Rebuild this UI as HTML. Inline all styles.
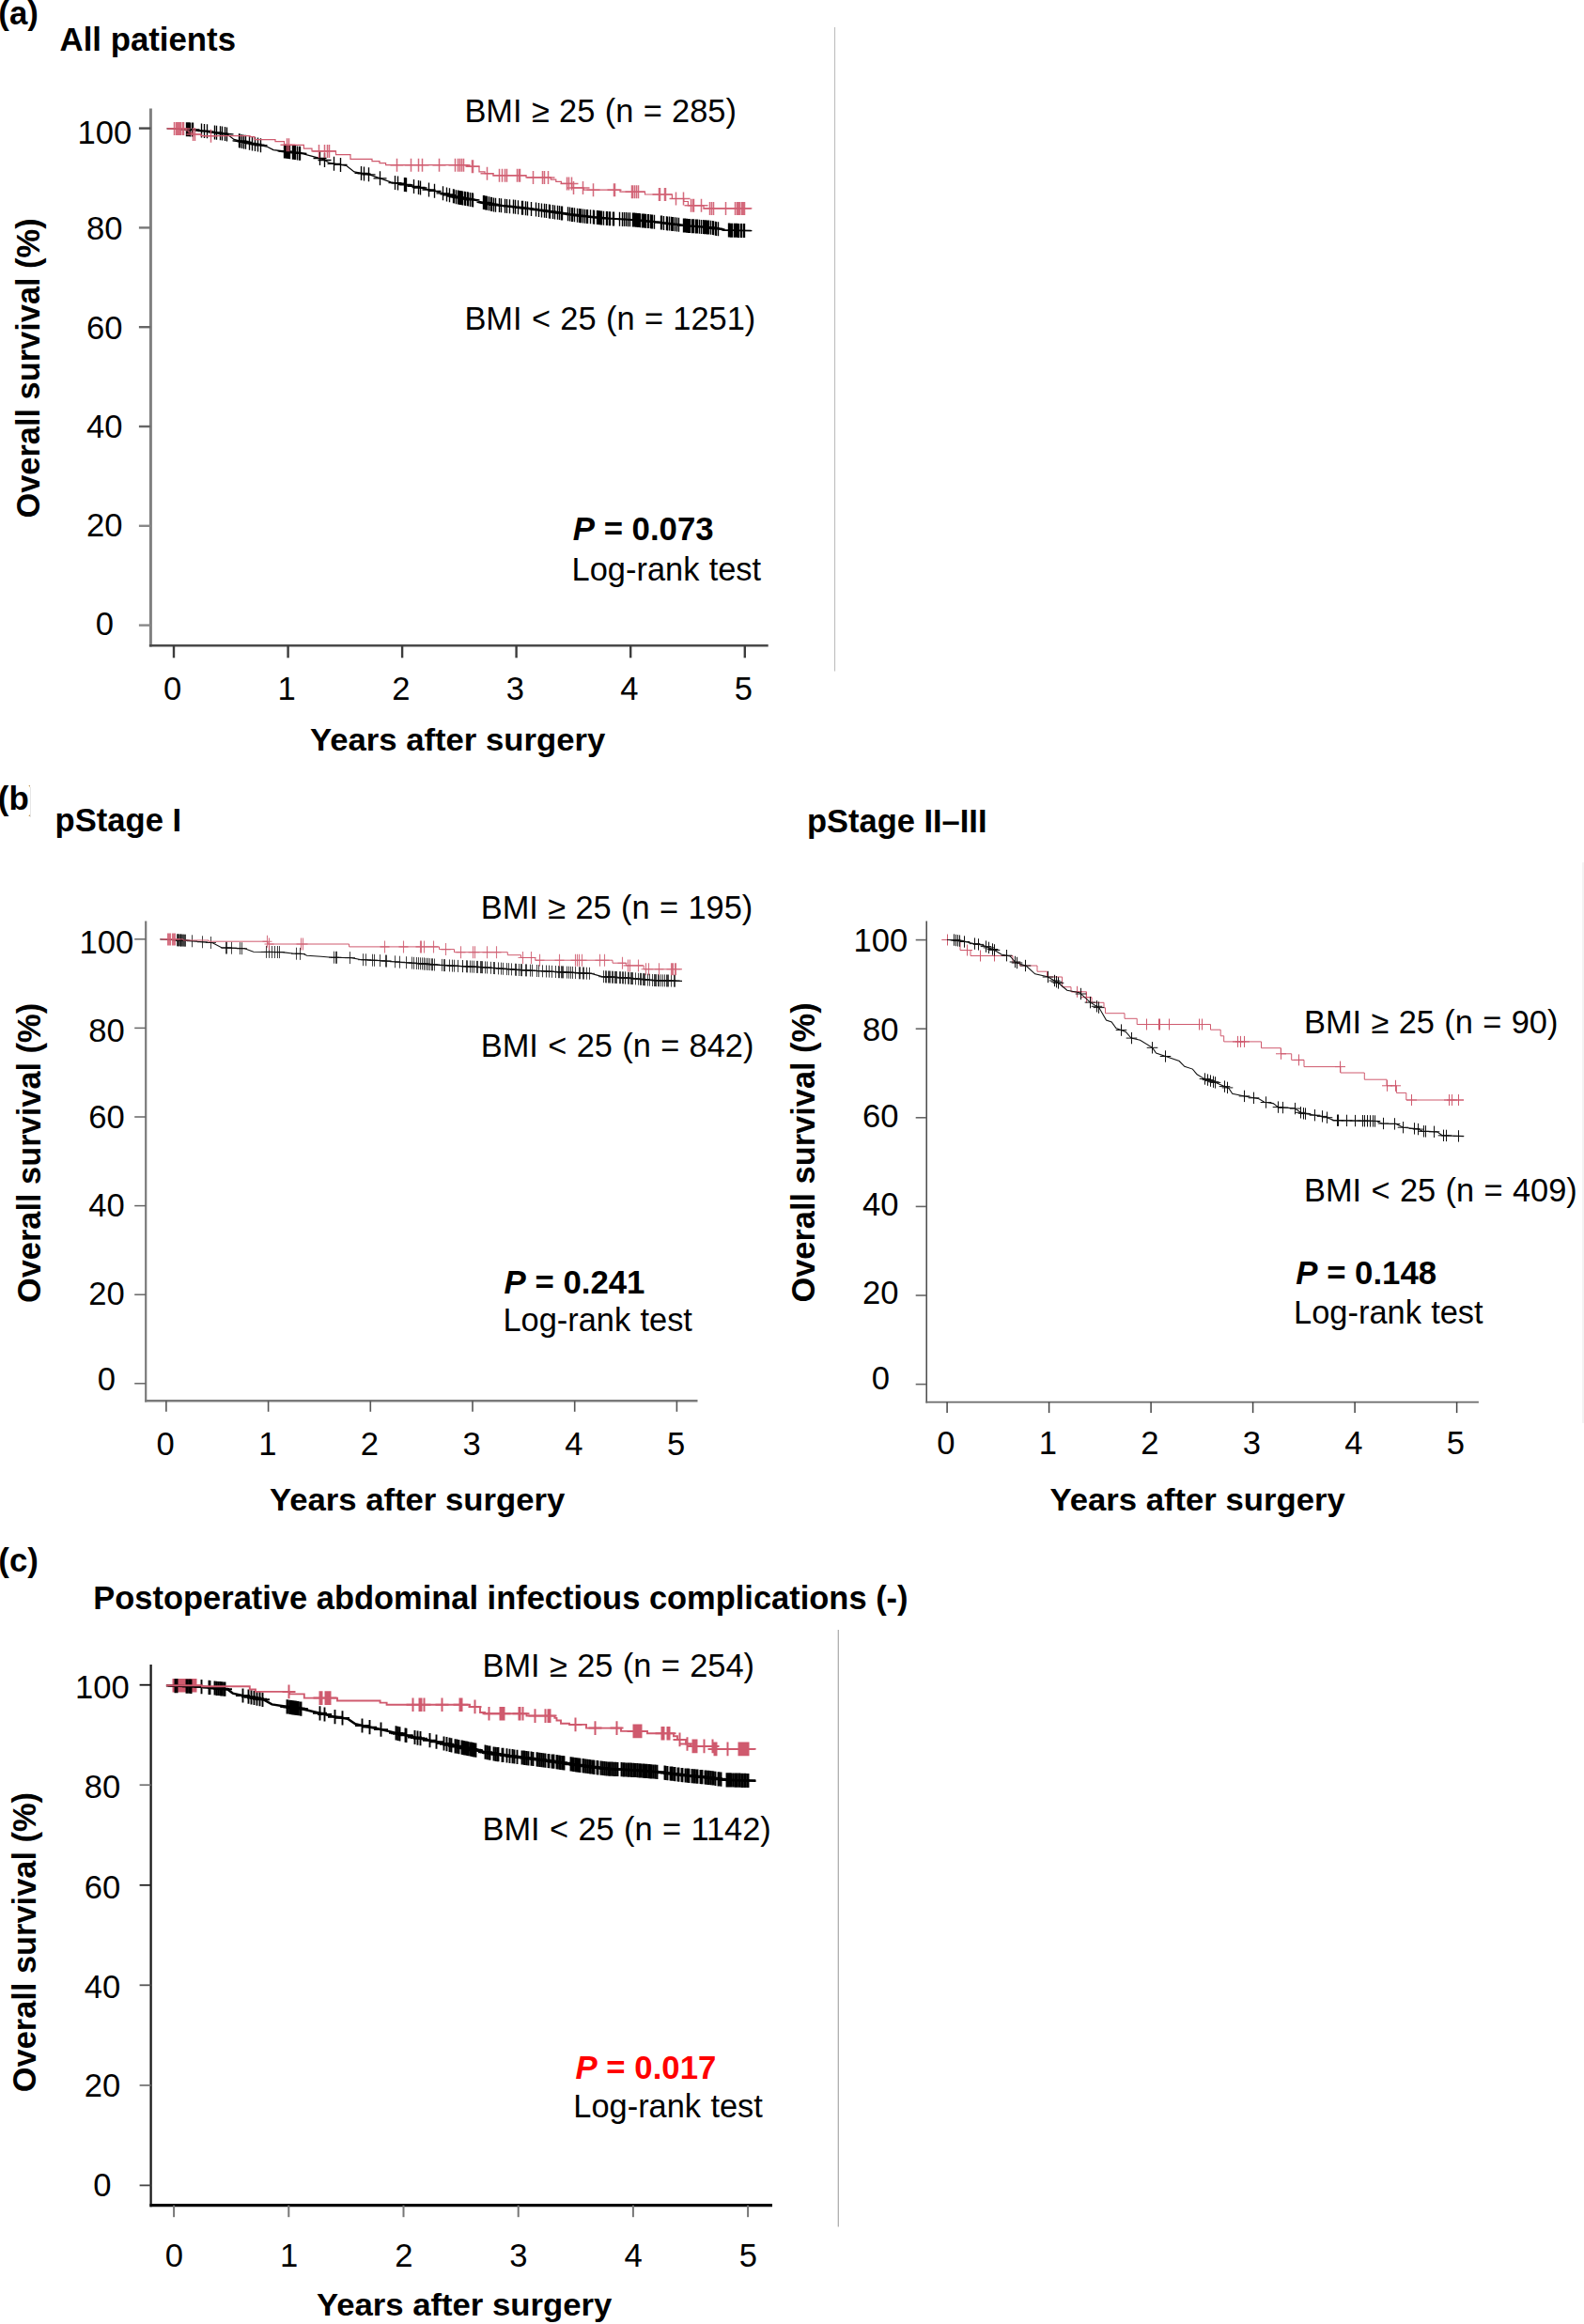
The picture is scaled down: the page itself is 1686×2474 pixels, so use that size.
<!DOCTYPE html>
<html lang="en"><head><meta charset="utf-8"><title>Overall survival by BMI</title>
<style>html,body{margin:0;padding:0;background:#fff}svg{display:block}</style></head>
<body>
<svg width="1686" height="2474" viewBox="0 0 1686 2474" font-family="'Liberation Sans', Arial, Helvetica, sans-serif" fill="#000">
<text transform="translate(-1.7 25.5) scale(0.994 1)" font-size="35.0" text-anchor="start" font-weight="bold">(a)</text>
<text transform="translate(63.6 54.3) scale(0.994 1)" font-size="35.0" text-anchor="start" font-weight="bold">All patients</text>
<line x1="888.5" y1="29.0" x2="888.5" y2="714.5" stroke="#c0c0c0" stroke-width="1.20"/>
<line x1="160.4" y1="115.6" x2="160.4" y2="688.6" stroke="#808080" stroke-width="3.00"/>
<line x1="158.9" y1="687.3" x2="817.7" y2="687.3" stroke="#4a4a4a" stroke-width="2.60"/>
<line x1="147.9" y1="136.6" x2="160.4" y2="136.6" stroke="#484848" stroke-width="2.40"/>
<text transform="translate(111.3 153.0) scale(0.995 1)" font-size="34.8" text-anchor="middle">100</text>
<line x1="185.0" y1="687.3" x2="185.0" y2="700.3" stroke="#3c3c3c" stroke-width="2.40"/>
<text transform="translate(183.7 745.3) scale(0.995 1)" font-size="34.8" text-anchor="middle">0</text>
<line x1="147.9" y1="242.4" x2="160.4" y2="242.4" stroke="#777" stroke-width="2.40"/>
<text transform="translate(111.3 255.0) scale(0.995 1)" font-size="34.8" text-anchor="middle">80</text>
<line x1="306.6" y1="687.3" x2="306.6" y2="700.3" stroke="#3c3c3c" stroke-width="2.40"/>
<text transform="translate(305.2 745.3) scale(0.995 1)" font-size="34.8" text-anchor="middle">1</text>
<line x1="147.9" y1="348.2" x2="160.4" y2="348.2" stroke="#666" stroke-width="2.40"/>
<text transform="translate(111.3 361.3) scale(0.995 1)" font-size="34.8" text-anchor="middle">60</text>
<line x1="428.1" y1="687.3" x2="428.1" y2="700.3" stroke="#3c3c3c" stroke-width="2.40"/>
<text transform="translate(426.8 745.3) scale(0.995 1)" font-size="34.8" text-anchor="middle">2</text>
<line x1="147.9" y1="454.0" x2="160.4" y2="454.0" stroke="#666" stroke-width="2.40"/>
<text transform="translate(111.3 466.3) scale(0.995 1)" font-size="34.8" text-anchor="middle">40</text>
<line x1="549.6" y1="687.3" x2="549.6" y2="700.3" stroke="#3c3c3c" stroke-width="2.40"/>
<text transform="translate(548.4 745.3) scale(0.995 1)" font-size="34.8" text-anchor="middle">3</text>
<line x1="147.9" y1="559.8" x2="160.4" y2="559.8" stroke="#888" stroke-width="2.40"/>
<text transform="translate(111.3 571.3) scale(0.995 1)" font-size="34.8" text-anchor="middle">20</text>
<line x1="671.2" y1="687.3" x2="671.2" y2="700.3" stroke="#3c3c3c" stroke-width="2.40"/>
<text transform="translate(669.9 745.3) scale(0.995 1)" font-size="34.8" text-anchor="middle">4</text>
<line x1="147.9" y1="665.6" x2="160.4" y2="665.6" stroke="#888" stroke-width="2.40"/>
<text transform="translate(111.3 676.3) scale(0.995 1)" font-size="34.8" text-anchor="middle">0</text>
<line x1="792.8" y1="687.3" x2="792.8" y2="700.3" stroke="#3c3c3c" stroke-width="2.40"/>
<text transform="translate(791.5 745.3) scale(0.995 1)" font-size="34.8" text-anchor="middle">5</text>
<text transform="translate(41.9 392.0) scale(1.015 1) rotate(-90)" font-size="34.4" text-anchor="middle" font-weight="bold">Overall survival (%)</text>
<text transform="translate(329.9 798.5) scale(1.021 1)" font-size="34.0" text-anchor="start" font-weight="bold">Years after surgery</text>
<text transform="translate(494.4 129.7) scale(1.000 1)" font-size="34.4" text-anchor="start" word-spacing="0.8">BMI ≥ 25 (n = 285)</text>
<text transform="translate(494.4 351.0) scale(1.000 1)" font-size="34.4" text-anchor="start" word-spacing="0.8">BMI &lt; 25 (n = 1251)</text>
<text transform="translate(609.8 575.3) scale(0.994 1)" font-size="35.0" text-anchor="start" font-weight="bold"><tspan font-style="italic">P</tspan> = 0.073</text>
<text transform="translate(608.6 617.6) scale(1.000 1)" font-size="34.4" text-anchor="start" word-spacing="0.8">Log-rank test</text>
<g>
<path d="M177.6 136.9 L206.0 138.0 L228.0 140.8 L242.0 143.0 L249.0 148.5 L267.0 152.6 L284.0 156.0 L291.0 159.6 L303.0 161.0 L323.0 163.8 L343.6 169.3 L350.5 173.5 L368.6 176.3 L377.0 183.0 L393.9 186.1 L416.0 193.8 L438.3 197.9 L463.3 203.5 L485.6 209.7 L505.0 213.2 L525.8 218.0 L546.7 220.1 L574.4 223.6 L590.0 225.8 L617.8 229.7 L645.5 232.5 L673.3 233.9 L701.0 236.7 L728.9 240.1 L756.7 242.2 L770.5 245.0 L800.4 245.7" fill="none" stroke="#000" stroke-width="1.30" stroke-linejoin="miter"/>
<path d="M198.5 130.2v15.0M191.5 137.7h14.0M199.5 130.2v15.0M192.5 137.7h14.0M199.5 130.2v15.0M192.5 137.7h14.0M200.5 130.3v15.0M193.5 137.8h14.0M201.5 130.3v15.0M194.5 137.8h14.0M202.5 130.4v15.0M195.5 137.9h14.0M202.5 130.4v15.0M195.5 137.9h14.0M204.5 130.4v15.0M197.5 137.9h14.0M205.5 130.5v15.0M198.5 138.0h14.0M214.5 131.6v15.0M207.5 139.1h14.0M217.5 132.0v15.0M210.5 139.5h14.0M220.5 132.3v15.0M213.5 139.8h14.0M228.5 133.4v15.0M221.5 140.9h14.0M230.5 133.7v15.0M223.5 141.2h14.0M234.5 134.3v15.0M227.5 141.8h14.0M236.5 134.6v15.0M229.5 142.1h14.0M239.5 135.1v15.0M232.5 142.6h14.0M241.5 135.4v15.0M234.5 142.9h14.0M254.5 142.3v15.0M247.5 149.8h14.0M255.5 142.5v15.0M248.5 150.0h14.0M257.5 142.9v15.0M250.5 150.4h14.0M259.5 143.4v15.0M252.5 150.9h14.0M261.5 143.8v15.0M254.5 151.3h14.0M265.5 144.8v15.0M258.5 152.3h14.0M268.5 145.4v15.0M261.5 152.9h14.0M271.5 146.0v15.0M264.5 153.5h14.0M274.5 146.6v15.0M267.5 154.1h14.0M277.5 147.2v15.0M270.5 154.7h14.0M302.5 153.4v15.0M295.5 160.9h14.0M303.5 153.6v15.0M296.5 161.1h14.0M304.5 153.7v15.0M297.5 161.2h14.0M305.5 153.8v15.0M298.5 161.3h14.0M306.5 154.0v15.0M299.5 161.5h14.0M307.5 154.1v15.0M300.5 161.6h14.0M308.5 154.3v15.0M301.5 161.8h14.0M311.5 154.7v15.0M304.5 162.2h14.0M312.5 154.8v15.0M305.5 162.3h14.0M313.5 155.0v15.0M306.5 162.5h14.0M314.5 155.1v15.0M307.5 162.6h14.0M316.5 155.4v15.0M309.5 162.9h14.0M318.5 155.7v15.0M311.5 163.2h14.0M319.5 155.8v15.0M312.5 163.3h14.0M340.5 161.0v15.0M333.5 168.5h14.0M345.5 163.0v15.0M338.5 170.5h14.0M355.5 166.8v15.0M348.5 174.3h14.0M362.5 167.9v15.0M355.5 175.4h14.0M384.5 176.9v15.0M377.5 184.4h14.0M387.5 177.4v15.0M380.5 184.9h14.0M392.5 178.3v15.0M385.5 185.8h14.0M404.5 182.3v15.0M397.5 189.8h14.0M420.5 187.1v15.0M413.5 194.6h14.0M423.5 187.6v15.0M416.5 195.1h14.0M430.5 188.9v15.0M423.5 196.4h14.0M431.5 189.1v15.0M424.5 196.6h14.0M432.5 189.3v15.0M425.5 196.8h14.0M440.5 190.9v15.0M433.5 198.4h14.0M445.5 192.0v15.0M438.5 199.5h14.0M447.5 192.5v15.0M440.5 200.0h14.0M456.5 194.5v15.0M449.5 202.0h14.0M462.5 195.8v15.0M455.5 203.3h14.0M471.5 198.3v15.0M464.5 205.8h14.0M475.5 199.4v15.0M468.5 206.9h14.0M478.5 200.2v15.0M471.5 207.7h14.0M482.5 201.3v15.0M475.5 208.8h14.0M483.5 201.6v15.0M476.5 209.1h14.0M485.5 202.2v15.0M478.5 209.7h14.0M485.5 202.2v15.0M478.5 209.7h14.0M487.5 202.5v15.0M480.5 210.0h14.0M488.5 202.7v15.0M481.5 210.2h14.0M489.5 202.9v15.0M482.5 210.4h14.0M489.5 202.9v15.0M482.5 210.4h14.0M490.5 203.1v15.0M483.5 210.6h14.0M491.5 203.3v15.0M484.5 210.8h14.0M492.5 203.4v15.0M485.5 210.9h14.0M494.5 203.8v15.0M487.5 211.3h14.0M495.5 204.0v15.0M488.5 211.5h14.0M497.5 204.3v15.0M490.5 211.8h14.0M497.5 204.3v15.0M490.5 211.8h14.0M498.5 204.5v15.0M491.5 212.0h14.0M498.5 204.5v15.0M491.5 212.0h14.0M500.5 204.9v15.0M493.5 212.4h14.0M500.5 204.9v15.0M493.5 212.4h14.0M502.5 205.2v15.0M495.5 212.7h14.0M503.5 205.4v15.0M496.5 212.9h14.0M514.5 207.9v15.0M507.5 215.4h14.0M515.5 208.1v15.0M508.5 215.6h14.0M516.5 208.4v15.0M509.5 215.9h14.0M517.5 208.6v15.0M510.5 216.1h14.0M518.5 208.8v15.0M511.5 216.3h14.0M520.5 209.3v15.0M513.5 216.8h14.0M522.5 209.7v15.0M515.5 217.2h14.0M523.5 210.0v15.0M516.5 217.5h14.0M525.5 210.4v15.0M518.5 217.9h14.0M527.5 210.7v15.0M520.5 218.2h14.0M531.5 211.1v15.0M524.5 218.6h14.0M533.5 211.3v15.0M526.5 218.8h14.0M533.5 211.3v15.0M526.5 218.8h14.0M537.5 211.7v15.0M530.5 219.2h14.0M539.5 211.9v15.0M532.5 219.4h14.0M542.5 212.2v15.0M535.5 219.7h14.0M546.5 212.6v15.0M539.5 220.1h14.0M548.5 212.8v15.0M541.5 220.3h14.0M551.5 213.2v15.0M544.5 220.7h14.0M555.5 213.7v15.0M548.5 221.2h14.0M556.5 213.8v15.0M549.5 221.3h14.0M559.5 214.2v15.0M552.5 221.7h14.0M561.5 214.5v15.0M554.5 222.0h14.0M565.5 215.0v15.0M558.5 222.5h14.0M570.5 215.6v15.0M563.5 223.1h14.0M573.5 216.0v15.0M566.5 223.5h14.0M576.5 216.4v15.0M569.5 223.9h14.0M579.5 216.8v15.0M572.5 224.3h14.0M581.5 217.1v15.0M574.5 224.6h14.0M584.5 217.5v15.0M577.5 225.0h14.0M585.5 217.7v15.0M578.5 225.2h14.0M588.5 218.1v15.0M581.5 225.6h14.0M590.5 218.4v15.0M583.5 225.9h14.0M590.5 218.4v15.0M583.5 225.9h14.0M593.5 218.8v15.0M586.5 226.3h14.0M595.5 219.1v15.0M588.5 226.6h14.0M595.5 219.1v15.0M588.5 226.6h14.0M597.5 219.4v15.0M590.5 226.9h14.0M598.5 219.5v15.0M591.5 227.0h14.0M598.5 219.5v15.0M591.5 227.0h14.0M604.5 220.3v15.0M597.5 227.8h14.0M606.5 220.6v15.0M599.5 228.1h14.0M606.5 220.6v15.0M599.5 228.1h14.0M608.5 220.9v15.0M601.5 228.4h14.0M609.5 221.0v15.0M602.5 228.5h14.0M611.5 221.3v15.0M604.5 228.8h14.0M611.5 221.3v15.0M604.5 228.8h14.0M614.5 221.7v15.0M607.5 229.2h14.0M616.5 222.0v15.0M609.5 229.5h14.0M617.5 222.2v15.0M610.5 229.7h14.0M618.5 222.3v15.0M611.5 229.8h14.0M620.5 222.5v15.0M613.5 230.0h14.0M622.5 222.7v15.0M615.5 230.2h14.0M624.5 222.9v15.0M617.5 230.4h14.0M625.5 223.0v15.0M618.5 230.5h14.0M628.5 223.3v15.0M621.5 230.8h14.0M628.5 223.3v15.0M621.5 230.8h14.0M631.5 223.6v15.0M624.5 231.1h14.0M632.5 223.7v15.0M625.5 231.2h14.0M635.5 224.0v15.0M628.5 231.5h14.0M636.5 224.1v15.0M629.5 231.6h14.0M637.5 224.2v15.0M630.5 231.7h14.0M638.5 224.3v15.0M631.5 231.8h14.0M639.5 224.4v15.0M632.5 231.9h14.0M640.5 224.5v15.0M633.5 232.0h14.0M642.5 224.7v15.0M635.5 232.2h14.0M645.5 225.0v15.0M638.5 232.5h14.0M646.5 225.1v15.0M639.5 232.6h14.0M648.5 225.2v15.0M641.5 232.7h14.0M649.5 225.2v15.0M642.5 232.7h14.0M652.5 225.4v15.0M645.5 232.9h14.0M653.5 225.4v15.0M646.5 232.9h14.0M659.5 225.7v15.0M652.5 233.2h14.0M659.5 225.7v15.0M652.5 233.2h14.0M662.5 225.9v15.0M655.5 233.4h14.0M662.5 225.9v15.0M655.5 233.4h14.0M664.5 226.0v15.0M657.5 233.5h14.0M666.5 226.1v15.0M659.5 233.6h14.0M668.5 226.2v15.0M661.5 233.7h14.0M670.5 226.3v15.0M663.5 233.8h14.0M673.5 226.4v15.0M666.5 233.9h14.0M673.5 226.4v15.0M666.5 233.9h14.0M674.5 226.5v15.0M667.5 234.0h14.0M674.5 226.5v15.0M667.5 234.0h14.0M675.5 226.6v15.0M668.5 234.1h14.0M676.5 226.7v15.0M669.5 234.2h14.0M677.5 226.8v15.0M670.5 234.3h14.0M677.5 226.8v15.0M670.5 234.3h14.0M678.5 226.9v15.0M671.5 234.4h14.0M679.5 227.0v15.0M672.5 234.5h14.0M680.5 227.1v15.0M673.5 234.6h14.0M681.5 227.2v15.0M674.5 234.7h14.0M683.5 227.4v15.0M676.5 234.9h14.0M684.5 227.5v15.0M677.5 235.0h14.0M685.5 227.6v15.0M678.5 235.1h14.0M686.5 227.7v15.0M679.5 235.2h14.0M687.5 227.8v15.0M680.5 235.3h14.0M689.5 228.0v15.0M682.5 235.5h14.0M690.5 228.1v15.0M683.5 235.6h14.0M692.5 228.3v15.0M685.5 235.8h14.0M693.5 228.4v15.0M686.5 235.9h14.0M694.5 228.5v15.0M687.5 236.0h14.0M696.5 228.7v15.0M689.5 236.2h14.0M703.5 229.5v15.0M696.5 237.0h14.0M704.5 229.6v15.0M697.5 237.1h14.0M706.5 229.9v15.0M699.5 237.4h14.0M709.5 230.2v15.0M702.5 237.7h14.0M710.5 230.4v15.0M703.5 237.9h14.0M712.5 230.6v15.0M705.5 238.1h14.0M714.5 230.8v15.0M707.5 238.3h14.0M715.5 231.0v15.0M708.5 238.5h14.0M716.5 231.1v15.0M709.5 238.6h14.0M718.5 231.3v15.0M711.5 238.8h14.0M720.5 231.6v15.0M713.5 239.1h14.0M720.5 231.6v15.0M713.5 239.1h14.0M722.5 231.8v15.0M715.5 239.3h14.0M727.5 232.4v15.0M720.5 239.9h14.0M727.5 232.4v15.0M720.5 239.9h14.0M728.5 232.6v15.0M721.5 240.1h14.0M729.5 232.6v15.0M722.5 240.1h14.0M730.5 232.7v15.0M723.5 240.2h14.0M731.5 232.8v15.0M724.5 240.3h14.0M732.5 232.9v15.0M725.5 240.4h14.0M733.5 232.9v15.0M726.5 240.4h14.0M734.5 233.0v15.0M727.5 240.5h14.0M734.5 233.0v15.0M727.5 240.5h14.0M736.5 233.2v15.0M729.5 240.7h14.0M737.5 233.2v15.0M730.5 240.7h14.0M738.5 233.3v15.0M731.5 240.8h14.0M740.5 233.5v15.0M733.5 241.0h14.0M741.5 233.6v15.0M734.5 241.1h14.0M742.5 233.6v15.0M735.5 241.1h14.0M744.5 233.8v15.0M737.5 241.3h14.0M746.5 233.9v15.0M739.5 241.4h14.0M748.5 234.1v15.0M741.5 241.6h14.0M749.5 234.2v15.0M742.5 241.7h14.0M750.5 234.2v15.0M743.5 241.7h14.0M751.5 234.3v15.0M744.5 241.8h14.0M752.5 234.4v15.0M745.5 241.9h14.0M753.5 234.5v15.0M746.5 242.0h14.0M754.5 234.5v15.0M747.5 242.0h14.0M756.5 234.7v15.0M749.5 242.2h14.0M756.5 234.7v15.0M749.5 242.2h14.0M758.5 235.1v15.0M751.5 242.6h14.0M759.5 235.3v15.0M752.5 242.8h14.0M759.5 235.3v15.0M752.5 242.8h14.0M761.5 235.7v15.0M754.5 243.2h14.0M761.5 235.7v15.0M754.5 243.2h14.0M762.5 235.9v15.0M755.5 243.4h14.0M764.5 236.3v15.0M757.5 243.8h14.0M775.5 237.6v15.0M768.5 245.1h14.0M776.5 237.6v15.0M769.5 245.1h14.0M777.5 237.7v15.0M770.5 245.2h14.0M778.5 237.7v15.0M771.5 245.2h14.0M779.5 237.7v15.0M772.5 245.2h14.0M781.5 237.8v15.0M774.5 245.3h14.0M782.5 237.8v15.0M775.5 245.3h14.0M783.5 237.8v15.0M776.5 245.3h14.0M784.5 237.8v15.0M777.5 245.3h14.0M785.5 237.9v15.0M778.5 245.4h14.0M786.5 237.9v15.0M779.5 245.4h14.0M788.5 237.9v15.0M781.5 245.4h14.0M789.5 237.9v15.0M782.5 245.4h14.0M791.5 238.0v15.0M784.5 245.5h14.0M792.5 238.0v15.0M785.5 245.5h14.0" fill="none" stroke="#000" stroke-width="1.35"/>
<path d="M177.6 136.9 L198.0 136.9 L198.0 139.0 L201.0 139.0 L201.0 141.0 L204.0 141.0 L204.0 143.0 L214.0 143.0 L214.0 144.7 L266.0 144.7 L266.0 145.7 L271.0 145.7 L271.0 148.6 L293.0 148.6 L293.0 150.7 L302.5 150.7 L302.5 154.3 L323.4 154.3 L323.4 158.2 L332.0 158.2 L332.0 160.9 L357.5 160.9 L357.5 164.6 L373.0 164.6 L373.0 169.3 L396.0 169.3 L396.0 171.7 L404.0 171.7 L404.0 173.7 L410.6 173.7 L410.6 175.7 L497.4 175.7 L497.4 177.2 L510.0 177.2 L510.0 182.8 L516.0 182.8 L516.0 184.7 L525.0 184.7 L525.0 186.8 L560.0 186.8 L560.0 188.9 L586.3 188.9 L586.3 191.1 L591.8 191.1 L591.8 193.4 L597.4 193.4 L597.4 195.4 L608.7 195.4 L608.7 199.9 L621.2 199.9 L621.2 202.2 L660.0 202.2 L660.0 204.2 L686.5 204.2 L686.5 207.0 L715.4 207.0 L715.4 211.5 L727.8 211.5 L727.8 214.5 L732.4 214.5 L732.4 218.8 L749.0 218.8 L749.0 221.9 L800.4 221.9" fill="none" stroke="#cf5a6e" stroke-width="1.20" stroke-linejoin="miter"/>
<path d="M185.5 129.9v14.0M178.5 136.9h14.0M187.5 129.9v14.0M180.5 136.9h14.0M188.5 129.9v14.0M181.5 136.9h14.0M189.5 129.9v14.0M182.5 136.9h14.0M190.5 129.9v14.0M183.5 136.9h14.0M190.5 129.9v14.0M183.5 136.9h14.0M191.5 129.9v14.0M184.5 136.9h14.0M192.5 129.9v14.0M185.5 136.9h14.0M192.5 129.9v14.0M185.5 136.9h14.0M194.5 129.9v14.0M187.5 136.9h14.0M194.5 129.9v14.0M187.5 136.9h14.0M195.5 129.9v14.0M188.5 136.9h14.0M205.5 136.0v14.0M198.5 143.0h14.0M207.5 136.0v14.0M200.5 143.0h14.0M224.5 137.7v14.0M217.5 144.7h14.0M305.5 147.3v14.0M298.5 154.3h14.0M307.5 147.3v14.0M300.5 154.3h14.0M339.5 153.9v14.0M332.5 160.9h14.0M345.5 153.9v14.0M338.5 160.9h14.0M348.5 153.9v14.0M341.5 160.9h14.0M350.5 153.9v14.0M343.5 160.9h14.0M422.5 168.7v14.0M415.5 175.7h14.0M437.5 168.7v14.0M430.5 175.7h14.0M445.5 168.7v14.0M438.5 175.7h14.0M449.5 168.7v14.0M442.5 175.7h14.0M467.5 168.7v14.0M460.5 175.7h14.0M484.5 168.7v14.0M477.5 175.7h14.0M487.5 168.7v14.0M480.5 175.7h14.0M489.5 168.7v14.0M482.5 175.7h14.0M491.5 168.7v14.0M484.5 175.7h14.0M493.5 168.7v14.0M486.5 175.7h14.0M502.5 170.2v14.0M495.5 177.2h14.0M503.5 170.2v14.0M496.5 177.2h14.0M518.5 177.7v14.0M511.5 184.7h14.0M531.5 179.8v14.0M524.5 186.8h14.0M534.5 179.8v14.0M527.5 186.8h14.0M537.5 179.8v14.0M530.5 186.8h14.0M539.5 179.8v14.0M532.5 186.8h14.0M550.5 179.8v14.0M543.5 186.8h14.0M552.5 179.8v14.0M545.5 186.8h14.0M553.5 179.8v14.0M546.5 186.8h14.0M567.5 181.9v14.0M560.5 188.9h14.0M577.5 181.9v14.0M570.5 188.9h14.0M579.5 181.9v14.0M572.5 188.9h14.0M583.5 181.9v14.0M576.5 188.9h14.0M603.5 188.4v14.0M596.5 195.4h14.0M605.5 188.4v14.0M598.5 195.4h14.0M608.5 188.4v14.0M601.5 195.4h14.0M610.5 192.9v14.0M603.5 199.9h14.0M620.5 192.9v14.0M613.5 199.9h14.0M631.5 195.2v14.0M624.5 202.2h14.0M653.5 195.2v14.0M646.5 202.2h14.0M654.5 195.2v14.0M647.5 202.2h14.0M672.5 197.2v14.0M665.5 204.2h14.0M672.5 197.2v14.0M665.5 204.2h14.0M673.5 197.2v14.0M666.5 204.2h14.0M675.5 197.2v14.0M668.5 204.2h14.0M677.5 197.2v14.0M670.5 204.2h14.0M679.5 197.2v14.0M672.5 204.2h14.0M701.5 200.0v14.0M694.5 207.0h14.0M702.5 200.0v14.0M695.5 207.0h14.0M707.5 200.0v14.0M700.5 207.0h14.0M708.5 200.0v14.0M701.5 207.0h14.0M719.5 204.5v14.0M712.5 211.5h14.0M727.5 204.5v14.0M720.5 211.5h14.0M735.5 211.8v14.0M728.5 218.8h14.0M737.5 211.8v14.0M730.5 218.8h14.0M738.5 211.8v14.0M731.5 218.8h14.0M746.5 211.8v14.0M739.5 218.8h14.0M755.5 214.9v14.0M748.5 221.9h14.0M757.5 214.9v14.0M750.5 221.9h14.0M759.5 214.9v14.0M752.5 221.9h14.0M772.5 214.9v14.0M765.5 221.9h14.0M782.5 214.9v14.0M775.5 221.9h14.0M784.5 214.9v14.0M777.5 221.9h14.0M785.5 214.9v14.0M778.5 221.9h14.0M786.5 214.9v14.0M779.5 221.9h14.0M787.5 214.9v14.0M780.5 221.9h14.0M787.5 214.9v14.0M780.5 221.9h14.0M789.5 214.9v14.0M782.5 221.9h14.0M790.5 214.9v14.0M783.5 221.9h14.0M791.5 214.9v14.0M784.5 221.9h14.0M792.5 214.9v14.0M785.5 221.9h14.0" fill="none" stroke="#cf5a6e" stroke-width="1.50" stroke-opacity="0.90"/>
</g>
<clipPath id="cb"><rect x="0" y="820" width="31.5" height="60"/></clipPath>
<g clip-path="url(#cb)">
<text transform="translate(-2.2 862.4) scale(0.970 1)" font-size="36.0" text-anchor="start" font-weight="bold">(b)</text>
</g>
<line x1="32.5" y1="838.0" x2="32.5" y2="870.0" stroke="#e6e6e6" stroke-width="1.00"/>
<text transform="translate(58.6 884.6) scale(0.967 1)" font-size="35.8" text-anchor="start" font-weight="bold">pStage I</text>
<text transform="translate(859.0 886.4) scale(0.963 1)" font-size="35.8" text-anchor="start" font-weight="bold">pStage II–III</text>
<line x1="155.2" y1="980.4" x2="155.2" y2="1492.5" stroke="#7a7a7a" stroke-width="2.20"/>
<line x1="154.1" y1="1491.3" x2="742.5" y2="1491.3" stroke="#7a7a7a" stroke-width="2.40"/>
<line x1="143.2" y1="999.8" x2="155.2" y2="999.8" stroke="#666" stroke-width="1.50"/>
<text transform="translate(113.4 1014.6) scale(0.995 1)" font-size="34.8" text-anchor="middle">100</text>
<line x1="176.9" y1="1491.3" x2="176.9" y2="1502.8" stroke="#555" stroke-width="1.60"/>
<text transform="translate(176.1 1549.0) scale(0.995 1)" font-size="34.8" text-anchor="middle">0</text>
<line x1="143.2" y1="1094.4" x2="155.2" y2="1094.4" stroke="#666" stroke-width="1.50"/>
<text transform="translate(113.4 1109.2) scale(0.995 1)" font-size="34.8" text-anchor="middle">80</text>
<line x1="285.6" y1="1491.3" x2="285.6" y2="1502.8" stroke="#555" stroke-width="1.60"/>
<text transform="translate(284.8 1549.0) scale(0.995 1)" font-size="34.8" text-anchor="middle">1</text>
<line x1="143.2" y1="1189.0" x2="155.2" y2="1189.0" stroke="#666" stroke-width="1.50"/>
<text transform="translate(113.4 1201.0) scale(0.995 1)" font-size="34.8" text-anchor="middle">60</text>
<line x1="394.3" y1="1491.3" x2="394.3" y2="1502.8" stroke="#555" stroke-width="1.60"/>
<text transform="translate(393.5 1549.0) scale(0.995 1)" font-size="34.8" text-anchor="middle">2</text>
<line x1="143.2" y1="1283.6" x2="155.2" y2="1283.6" stroke="#666" stroke-width="1.50"/>
<text transform="translate(113.4 1295.0) scale(0.995 1)" font-size="34.8" text-anchor="middle">40</text>
<line x1="503.0" y1="1491.3" x2="503.0" y2="1502.8" stroke="#555" stroke-width="1.60"/>
<text transform="translate(502.2 1549.0) scale(0.995 1)" font-size="34.8" text-anchor="middle">3</text>
<line x1="143.2" y1="1378.2" x2="155.2" y2="1378.2" stroke="#666" stroke-width="1.50"/>
<text transform="translate(113.4 1388.9) scale(0.995 1)" font-size="34.8" text-anchor="middle">20</text>
<line x1="611.7" y1="1491.3" x2="611.7" y2="1502.8" stroke="#555" stroke-width="1.60"/>
<text transform="translate(610.9 1549.0) scale(0.995 1)" font-size="34.8" text-anchor="middle">4</text>
<line x1="143.2" y1="1472.8" x2="155.2" y2="1472.8" stroke="#666" stroke-width="1.50"/>
<text transform="translate(113.4 1479.9) scale(0.995 1)" font-size="34.8" text-anchor="middle">0</text>
<line x1="720.4" y1="1491.3" x2="720.4" y2="1502.8" stroke="#555" stroke-width="1.60"/>
<text transform="translate(719.6 1549.0) scale(0.995 1)" font-size="34.8" text-anchor="middle">5</text>
<text transform="translate(42.8 1227.5) scale(1.015 1) rotate(-90)" font-size="34.4" text-anchor="middle" font-weight="bold">Overall survival (%)</text>
<text transform="translate(286.9 1607.9) scale(1.021 1)" font-size="34.0" text-anchor="start" font-weight="bold">Years after surgery</text>
<text transform="translate(511.7 977.6) scale(1.000 1)" font-size="34.4" text-anchor="start" word-spacing="0.8">BMI ≥ 25 (n = 195)</text>
<text transform="translate(511.7 1124.5) scale(1.000 1)" font-size="34.4" text-anchor="start" word-spacing="0.8">BMI &lt; 25 (n = 842)</text>
<text transform="translate(536.6 1376.5) scale(0.994 1)" font-size="35.0" text-anchor="start" font-weight="bold"><tspan font-style="italic">P</tspan> = 0.241</text>
<text transform="translate(535.4 1417.4) scale(1.000 1)" font-size="34.4" text-anchor="start" word-spacing="0.8">Log-rank test</text>
<g>
<path d="M170.4 999.9 L197.9 1001.2 L226.3 1003.7 L235.8 1008.8 L260.4 1009.8 L269.8 1013.2 L300.2 1013.6 L311.5 1015.0 L322.9 1015.5 L326.7 1017.3 L341.8 1018.3 L353.2 1019.2 L374.0 1019.6 L383.5 1021.5 L406.2 1022.7 L425.2 1024.2 L444.0 1025.5 L460.0 1026.8 L477.9 1027.9 L515.8 1029.8 L553.6 1032.6 L591.5 1034.5 L629.4 1036.4 L640.8 1039.6 L667.3 1041.1 L695.7 1043.6 L726.0 1044.4" fill="none" stroke="#111" stroke-width="1.10" stroke-linejoin="miter"/>
<path d="M188.5 994.3v13.0M183.0 1000.8h11.0M189.5 994.3v13.0M184.0 1000.8h11.0M189.5 994.3v13.0M184.0 1000.8h11.0M190.5 994.4v13.0M185.0 1000.9h11.0M191.5 994.4v13.0M186.0 1000.9h11.0M192.5 994.5v13.0M187.0 1001.0h11.0M192.5 994.5v13.0M187.0 1001.0h11.0M193.5 994.5v13.0M188.0 1001.0h11.0M194.5 994.6v13.0M189.0 1001.1h11.0M195.5 994.6v13.0M190.0 1001.1h11.0M196.5 994.7v13.0M191.0 1001.2h11.0M197.5 994.7v13.0M192.0 1001.2h11.0M204.5 995.3v13.0M199.0 1001.8h11.0M215.5 996.3v13.0M210.0 1002.8h11.0M224.5 997.0v13.0M219.0 1003.5h11.0M240.5 1002.5v13.0M235.0 1009.0h11.0M241.5 1002.5v13.0M236.0 1009.0h11.0M246.5 1002.7v13.0M241.0 1009.2h11.0M255.5 1003.1v13.0M250.0 1009.6h11.0M257.5 1003.2v13.0M252.0 1009.7h11.0M283.5 1006.9v13.0M278.0 1013.4h11.0M286.5 1006.9v13.0M281.0 1013.4h11.0M289.5 1007.0v13.0M284.0 1013.5h11.0M292.5 1007.0v13.0M287.0 1013.5h11.0M295.5 1007.0v13.0M290.0 1013.5h11.0M297.5 1007.1v13.0M292.0 1013.6h11.0M315.5 1008.7v13.0M310.0 1015.2h11.0M319.5 1008.9v13.0M314.0 1015.4h11.0M355.5 1012.7v13.0M350.0 1019.2h11.0M357.5 1012.8v13.0M352.0 1019.3h11.0M358.5 1012.8v13.0M353.0 1019.3h11.0M372.5 1013.1v13.0M367.0 1019.6h11.0M386.5 1015.2v13.0M381.0 1021.7h11.0M389.5 1015.3v13.0M384.0 1021.8h11.0M396.5 1015.7v13.0M391.0 1022.2h11.0M398.5 1015.8v13.0M393.0 1022.3h11.0M404.5 1016.1v13.0M399.0 1022.6h11.0M410.5 1016.5v13.0M405.0 1023.0h11.0M411.5 1016.6v13.0M406.0 1023.1h11.0M420.5 1017.3v13.0M415.0 1023.8h11.0M425.5 1017.7v13.0M420.0 1024.2h11.0M432.5 1018.2v13.0M427.0 1024.7h11.0M438.5 1018.6v13.0M433.0 1025.1h11.0M440.5 1018.8v13.0M435.0 1025.3h11.0M443.5 1019.0v13.0M438.0 1025.5h11.0M445.5 1019.1v13.0M440.0 1025.6h11.0M447.5 1019.3v13.0M442.0 1025.8h11.0M449.5 1019.4v13.0M444.0 1025.9h11.0M451.5 1019.6v13.0M446.0 1026.1h11.0M451.5 1019.6v13.0M446.0 1026.1h11.0M453.5 1019.8v13.0M448.0 1026.3h11.0M455.5 1019.9v13.0M450.0 1026.4h11.0M455.5 1019.9v13.0M450.0 1026.4h11.0M457.5 1020.1v13.0M452.0 1026.6h11.0M459.5 1020.3v13.0M454.0 1026.8h11.0M460.5 1020.3v13.0M455.0 1026.8h11.0M462.5 1020.5v13.0M457.0 1027.0h11.0M470.5 1020.9v13.0M465.0 1027.4h11.0M472.5 1021.1v13.0M467.0 1027.6h11.0M473.5 1021.1v13.0M468.0 1027.6h11.0M478.5 1021.4v13.0M473.0 1027.9h11.0M481.5 1021.6v13.0M476.0 1028.1h11.0M483.5 1021.7v13.0M478.0 1028.2h11.0M487.5 1021.9v13.0M482.0 1028.4h11.0M492.5 1022.1v13.0M487.0 1028.6h11.0M492.5 1022.1v13.0M487.0 1028.6h11.0M496.5 1022.3v13.0M491.0 1028.8h11.0M497.5 1022.4v13.0M492.0 1028.9h11.0M500.5 1022.5v13.0M495.0 1029.0h11.0M502.5 1022.6v13.0M497.0 1029.1h11.0M504.5 1022.7v13.0M499.0 1029.2h11.0M507.5 1022.9v13.0M502.0 1029.4h11.0M508.5 1022.9v13.0M503.0 1029.4h11.0M511.5 1023.1v13.0M506.0 1029.6h11.0M512.5 1023.1v13.0M507.0 1029.6h11.0M513.5 1023.2v13.0M508.0 1029.7h11.0M516.5 1023.4v13.0M511.0 1029.9h11.0M518.5 1023.5v13.0M513.0 1030.0h11.0M522.5 1023.8v13.0M517.0 1030.3h11.0M525.5 1024.0v13.0M520.0 1030.5h11.0M526.5 1024.1v13.0M521.0 1030.6h11.0M530.5 1024.4v13.0M525.0 1030.9h11.0M533.5 1024.6v13.0M528.0 1031.1h11.0M535.5 1024.8v13.0M530.0 1031.3h11.0M539.5 1025.1v13.0M534.0 1031.6h11.0M541.5 1025.2v13.0M536.0 1031.7h11.0M544.5 1025.4v13.0M539.0 1031.9h11.0M548.5 1025.7v13.0M543.0 1032.2h11.0M549.5 1025.8v13.0M544.0 1032.3h11.0M552.5 1026.0v13.0M547.0 1032.5h11.0M554.5 1026.1v13.0M549.0 1032.6h11.0M555.5 1026.2v13.0M550.0 1032.7h11.0M559.5 1026.4v13.0M554.0 1032.9h11.0M560.5 1026.4v13.0M555.0 1032.9h11.0M564.5 1026.6v13.0M559.0 1033.1h11.0M566.5 1026.7v13.0M561.0 1033.2h11.0M571.5 1027.0v13.0M566.0 1033.5h11.0M573.5 1027.1v13.0M568.0 1033.6h11.0M577.5 1027.3v13.0M572.0 1033.8h11.0M581.5 1027.5v13.0M576.0 1034.0h11.0M584.5 1027.6v13.0M579.0 1034.1h11.0M587.5 1027.8v13.0M582.0 1034.3h11.0M591.5 1028.0v13.0M586.0 1034.5h11.0M594.5 1028.2v13.0M589.0 1034.7h11.0M595.5 1028.2v13.0M590.0 1034.7h11.0M597.5 1028.3v13.0M592.0 1034.8h11.0M598.5 1028.4v13.0M593.0 1034.9h11.0M599.5 1028.4v13.0M594.0 1034.9h11.0M603.5 1028.6v13.0M598.0 1035.1h11.0M605.5 1028.7v13.0M600.0 1035.2h11.0M607.5 1028.8v13.0M602.0 1035.3h11.0M609.5 1028.9v13.0M604.0 1035.4h11.0M612.5 1029.1v13.0M607.0 1035.6h11.0M616.5 1029.3v13.0M611.0 1035.8h11.0M617.5 1029.3v13.0M612.0 1035.8h11.0M620.5 1029.5v13.0M615.0 1036.0h11.0M621.5 1029.5v13.0M616.0 1036.0h11.0M624.5 1029.7v13.0M619.0 1036.2h11.0M627.5 1029.8v13.0M622.0 1036.3h11.0M642.5 1033.2v13.0M637.0 1039.7h11.0M644.5 1033.3v13.0M639.0 1039.8h11.0M645.5 1033.4v13.0M640.0 1039.9h11.0M647.5 1033.5v13.0M642.0 1040.0h11.0M648.5 1033.5v13.0M643.0 1040.0h11.0M649.5 1033.6v13.0M644.0 1040.1h11.0M651.5 1033.7v13.0M646.0 1040.2h11.0M652.5 1033.8v13.0M647.0 1040.3h11.0M654.5 1033.9v13.0M649.0 1040.4h11.0M655.5 1033.9v13.0M650.0 1040.4h11.0M656.5 1034.0v13.0M651.0 1040.5h11.0M659.5 1034.2v13.0M654.0 1040.7h11.0M660.5 1034.2v13.0M655.0 1040.7h11.0M662.5 1034.3v13.0M657.0 1040.8h11.0M663.5 1034.4v13.0M658.0 1040.9h11.0M665.5 1034.5v13.0M660.0 1041.0h11.0M665.5 1034.5v13.0M660.0 1041.0h11.0M668.5 1034.7v13.0M663.0 1041.2h11.0M669.5 1034.8v13.0M664.0 1041.3h11.0M671.5 1035.0v13.0M666.0 1041.5h11.0M672.5 1035.1v13.0M667.0 1041.6h11.0M673.5 1035.1v13.0M668.0 1041.6h11.0M676.5 1035.4v13.0M671.0 1041.9h11.0M679.5 1035.7v13.0M674.0 1042.2h11.0M681.5 1035.8v13.0M676.0 1042.3h11.0M682.5 1035.9v13.0M677.0 1042.4h11.0M684.5 1036.1v13.0M679.0 1042.6h11.0M685.5 1036.2v13.0M680.0 1042.7h11.0M686.5 1036.3v13.0M681.0 1042.8h11.0M689.5 1036.6v13.0M684.0 1043.1h11.0M691.5 1036.7v13.0M686.0 1043.2h11.0M694.5 1037.0v13.0M689.0 1043.5h11.0M696.5 1037.1v13.0M691.0 1043.6h11.0M697.5 1037.1v13.0M692.0 1043.6h11.0M698.5 1037.2v13.0M693.0 1043.7h11.0M700.5 1037.2v13.0M695.0 1043.7h11.0M701.5 1037.3v13.0M696.0 1043.8h11.0M703.5 1037.3v13.0M698.0 1043.8h11.0M705.5 1037.4v13.0M700.0 1043.9h11.0M707.5 1037.4v13.0M702.0 1043.9h11.0M709.5 1037.5v13.0M704.0 1044.0h11.0M710.5 1037.5v13.0M705.0 1044.0h11.0M711.5 1037.5v13.0M706.0 1044.0h11.0M714.5 1037.6v13.0M709.0 1044.1h11.0M717.5 1037.7v13.0M712.0 1044.2h11.0M718.5 1037.7v13.0M713.0 1044.2h11.0" fill="none" stroke="#111" stroke-width="1.00" stroke-opacity="0.80"/>
<path d="M170.4 999.9 L195.0 999.9 L195.0 1001.0 L222.0 1001.0 L222.0 1002.2 L285.0 1002.2 L285.0 1005.0 L371.6 1005.0 L371.6 1007.9 L467.5 1007.9 L467.5 1010.6 L483.5 1010.6 L483.5 1013.7 L540.3 1013.7 L540.3 1016.7 L554.5 1016.7 L554.5 1019.5 L569.8 1019.5 L569.8 1022.2 L652.0 1022.2 L652.0 1025.2 L666.3 1025.2 L666.3 1027.9 L685.2 1027.9 L685.2 1031.8 L726.0 1031.8" fill="none" stroke="#cf5a6e" stroke-width="1.00" stroke-linejoin="miter"/>
<path d="M178.5 993.4v13.0M173.5 999.9h10.0M179.5 993.4v13.0M174.5 999.9h10.0M180.5 993.4v13.0M175.5 999.9h10.0M181.5 993.4v13.0M176.5 999.9h10.0M181.5 993.4v13.0M176.5 999.9h10.0M183.5 993.4v13.0M178.5 999.9h10.0M184.5 993.4v13.0M179.5 999.9h10.0M185.5 993.4v13.0M180.5 999.9h10.0M186.5 993.4v13.0M181.5 999.9h10.0M284.5 995.7v13.0M279.5 1002.2h10.0M286.5 998.5v13.0M281.5 1005.0h10.0M320.5 998.5v13.0M315.5 1005.0h10.0M322.5 998.5v13.0M317.5 1005.0h10.0M409.5 1001.4v13.0M404.5 1007.9h10.0M429.5 1001.4v13.0M424.5 1007.9h10.0M447.5 1001.4v13.0M442.5 1007.9h10.0M448.5 1001.4v13.0M443.5 1007.9h10.0M451.5 1001.4v13.0M446.5 1007.9h10.0M461.5 1001.4v13.0M456.5 1007.9h10.0M474.5 1004.1v13.0M469.5 1010.6h10.0M490.5 1007.2v13.0M485.5 1013.7h10.0M503.5 1007.2v13.0M498.5 1013.7h10.0M505.5 1007.2v13.0M500.5 1013.7h10.0M518.5 1007.2v13.0M513.5 1013.7h10.0M528.5 1007.2v13.0M523.5 1013.7h10.0M556.5 1013.0v13.0M551.5 1019.5h10.0M565.5 1013.0v13.0M560.5 1019.5h10.0M574.5 1015.7v13.0M569.5 1022.2h10.0M595.5 1015.7v13.0M590.5 1022.2h10.0M612.5 1015.7v13.0M607.5 1022.2h10.0M614.5 1015.7v13.0M609.5 1022.2h10.0M616.5 1015.7v13.0M611.5 1022.2h10.0M619.5 1015.7v13.0M614.5 1022.2h10.0M638.5 1015.7v13.0M633.5 1022.2h10.0M643.5 1015.7v13.0M638.5 1022.2h10.0M662.5 1018.7v13.0M657.5 1025.2h10.0M668.5 1021.4v13.0M663.5 1027.9h10.0M670.5 1021.4v13.0M665.5 1027.9h10.0M679.5 1021.4v13.0M674.5 1027.9h10.0M687.5 1025.3v13.0M682.5 1031.8h10.0M690.5 1025.3v13.0M685.5 1031.8h10.0M701.5 1025.3v13.0M696.5 1031.8h10.0M714.5 1025.3v13.0M709.5 1031.8h10.0M715.5 1025.3v13.0M710.5 1031.8h10.0M716.5 1025.3v13.0M711.5 1031.8h10.0M718.5 1025.3v13.0M713.5 1031.8h10.0M719.5 1025.3v13.0M714.5 1031.8h10.0" fill="none" stroke="#cf5a6e" stroke-width="1.10" stroke-opacity="0.85"/>
</g>
<line x1="986.2" y1="980.4" x2="986.2" y2="1493.5" stroke="#3c3c3c" stroke-width="1.40"/>
<line x1="985.5" y1="1492.6" x2="1573.9" y2="1492.6" stroke="#6a6a6a" stroke-width="1.80"/>
<line x1="974.7" y1="1000.6" x2="986.2" y2="1000.6" stroke="#666" stroke-width="1.60"/>
<text transform="translate(937.3 1012.6) scale(0.995 1)" font-size="34.8" text-anchor="middle">100</text>
<line x1="1008.1" y1="1492.6" x2="1008.1" y2="1504.1" stroke="#444" stroke-width="1.50"/>
<text transform="translate(1006.8 1548.2) scale(0.995 1)" font-size="34.8" text-anchor="middle">0</text>
<line x1="974.7" y1="1095.2" x2="986.2" y2="1095.2" stroke="#666" stroke-width="1.60"/>
<text transform="translate(937.3 1108.0) scale(0.995 1)" font-size="34.8" text-anchor="middle">80</text>
<line x1="1116.6" y1="1492.6" x2="1116.6" y2="1504.1" stroke="#444" stroke-width="1.50"/>
<text transform="translate(1115.3 1548.2) scale(0.995 1)" font-size="34.8" text-anchor="middle">1</text>
<line x1="974.7" y1="1189.8" x2="986.2" y2="1189.8" stroke="#666" stroke-width="1.60"/>
<text transform="translate(937.3 1200.0) scale(0.995 1)" font-size="34.8" text-anchor="middle">60</text>
<line x1="1225.1" y1="1492.6" x2="1225.1" y2="1504.1" stroke="#444" stroke-width="1.50"/>
<text transform="translate(1223.8 1548.2) scale(0.995 1)" font-size="34.8" text-anchor="middle">2</text>
<line x1="974.7" y1="1284.4" x2="986.2" y2="1284.4" stroke="#666" stroke-width="1.60"/>
<text transform="translate(937.3 1293.9) scale(0.995 1)" font-size="34.8" text-anchor="middle">40</text>
<line x1="1333.6" y1="1492.6" x2="1333.6" y2="1504.1" stroke="#444" stroke-width="1.50"/>
<text transform="translate(1332.3 1548.2) scale(0.995 1)" font-size="34.8" text-anchor="middle">3</text>
<line x1="974.7" y1="1379.0" x2="986.2" y2="1379.0" stroke="#666" stroke-width="1.60"/>
<text transform="translate(937.3 1388.3) scale(0.995 1)" font-size="34.8" text-anchor="middle">20</text>
<line x1="1442.1" y1="1492.6" x2="1442.1" y2="1504.1" stroke="#444" stroke-width="1.50"/>
<text transform="translate(1440.8 1548.2) scale(0.995 1)" font-size="34.8" text-anchor="middle">4</text>
<line x1="974.7" y1="1473.6" x2="986.2" y2="1473.6" stroke="#666" stroke-width="1.60"/>
<text transform="translate(937.3 1479.3) scale(0.995 1)" font-size="34.8" text-anchor="middle">0</text>
<line x1="1550.6" y1="1492.6" x2="1550.6" y2="1504.1" stroke="#444" stroke-width="1.50"/>
<text transform="translate(1549.3 1548.2) scale(0.995 1)" font-size="34.8" text-anchor="middle">5</text>
<text transform="translate(866.7 1227.0) scale(1.015 1) rotate(-90)" font-size="34.4" text-anchor="middle" font-weight="bold">Overall survival (%)</text>
<text transform="translate(1117.4 1607.9) scale(1.021 1)" font-size="34.0" text-anchor="start" font-weight="bold">Years after surgery</text>
<text transform="translate(1388.0 1099.5) scale(1.000 1)" font-size="34.4" text-anchor="start" word-spacing="0.8">BMI ≥ 25 (n = 90)</text>
<text transform="translate(1388.0 1278.8) scale(1.000 1)" font-size="34.4" text-anchor="start" word-spacing="0.8">BMI &lt; 25 (n = 409)</text>
<text transform="translate(1379.3 1366.9) scale(0.994 1)" font-size="35.0" text-anchor="start" font-weight="bold"><tspan font-style="italic">P</tspan> = 0.148</text>
<text transform="translate(1377.1 1408.6) scale(1.000 1)" font-size="34.4" text-anchor="start" word-spacing="0.8">Log-rank test</text>
<rect x="1684" y="918" width="2" height="597" fill="#f3f3f3"/>
<g>
<path d="M1002.3 1000.5 L1022.0 1000.5 L1022.0 1011.5 L1033.0 1011.5 L1033.0 1017.5 L1078.0 1017.5 L1078.0 1024.7 L1085.6 1024.7 L1085.6 1028.0 L1104.0 1028.0 L1104.0 1034.2 L1114.5 1034.2 L1114.5 1040.0 L1130.6 1040.0 L1130.6 1050.7 L1140.0 1050.7 L1140.0 1055.8 L1156.2 1055.8 L1156.2 1061.7 L1162.0 1061.7 L1162.0 1067.3 L1175.0 1067.3 L1175.0 1072.8 L1176.5 1072.8 L1176.5 1078.7 L1197.0 1078.7 L1197.0 1084.3 L1210.2 1084.3 L1210.2 1090.5 L1288.5 1090.5 L1288.5 1096.2 L1299.2 1096.2 L1299.2 1102.8 L1302.7 1102.8 L1302.7 1108.9 L1342.5 1108.9 L1342.5 1115.7 L1363.3 1115.7 L1363.3 1121.8 L1374.7 1121.8 L1374.7 1128.4 L1388.0 1128.4 L1388.0 1135.6 L1426.8 1135.6 L1426.8 1142.0 L1452.3 1142.0 L1452.3 1149.2 L1476.0 1149.2 L1476.0 1155.8 L1486.4 1155.8 L1486.4 1163.4 L1496.8 1163.4 L1496.8 1171.0 L1558.0 1171.0" fill="none" stroke="#cf5a6e" stroke-width="1.00" stroke-linejoin="miter"/>
<path d="M1008.5 994.5v12.0M1003.0 1000.5h11.0M1029.5 1005.5v12.0M1024.0 1011.5h11.0M1043.5 1011.5v12.0M1038.0 1017.5h11.0M1058.5 1011.5v12.0M1053.0 1017.5h11.0M1146.5 1049.8v12.0M1141.0 1055.8h11.0M1156.5 1055.7v12.0M1151.0 1061.7h11.0M1220.5 1084.5v12.0M1215.0 1090.5h11.0M1233.5 1084.5v12.0M1228.0 1090.5h11.0M1234.5 1084.5v12.0M1229.0 1090.5h11.0M1244.5 1084.5v12.0M1239.0 1090.5h11.0M1276.5 1084.5v12.0M1271.0 1090.5h11.0M1279.5 1084.5v12.0M1274.0 1090.5h11.0M1317.5 1102.9v12.0M1312.0 1108.9h11.0M1320.5 1102.9v12.0M1315.0 1108.9h11.0M1324.5 1102.9v12.0M1319.0 1108.9h11.0M1363.5 1115.8v12.0M1358.0 1121.8h11.0M1382.5 1122.4v12.0M1377.0 1128.4h11.0M1426.5 1129.6v12.0M1421.0 1135.6h11.0M1476.5 1149.8v12.0M1471.0 1155.8h11.0M1485.5 1149.8v12.0M1480.0 1155.8h11.0M1502.5 1165.0v12.0M1497.0 1171.0h11.0M1542.5 1165.0v12.0M1537.0 1171.0h11.0M1545.5 1165.0v12.0M1540.0 1171.0h11.0M1552.5 1165.0v12.0M1547.0 1171.0h11.0" fill="none" stroke="#cf5a6e" stroke-width="1.00"/>
<path d="M1008.0 1000.5 L1014.6 1000.5 L1027.9 1002.7 L1046.8 1006.5 L1058.2 1011.2 L1065.8 1016.0 L1075.2 1017.9 L1080.9 1024.5 L1092.3 1028.3 L1101.7 1036.8 L1115.0 1039.7 L1126.4 1046.3 L1135.8 1054.2 L1149.1 1056.7 L1160.5 1067.1 L1169.9 1072.8 L1177.5 1086.0 L1183.2 1088.0 L1187.9 1094.6 L1198.3 1098.4 L1204.0 1105.0 L1213.5 1107.3 L1226.7 1115.4 L1230.5 1121.1 L1240.0 1124.3 L1255.2 1129.6 L1260.8 1135.3 L1269.4 1138.1 L1274.1 1143.8 L1281.4 1148.1 L1294.6 1152.8 L1307.9 1158.5 L1311.7 1164.2 L1324.9 1167.0 L1340.0 1169.8 L1345.8 1173.3 L1355.2 1174.6 L1360.9 1178.9 L1378.0 1179.7 L1385.5 1185.0 L1410.2 1188.8 L1419.6 1192.6 L1465.0 1193.5 L1470.8 1196.0 L1485.9 1196.4 L1493.5 1200.2 L1508.6 1201.7 L1514.3 1204.3 L1529.5 1204.9 L1535.2 1208.7 L1557.9 1209.6" fill="none" stroke="#111" stroke-width="1.10" stroke-linejoin="miter"/>
<path d="M1015.5 994.4v12.4M1009.7 1000.6h11.6M1017.5 994.8v12.4M1011.7 1001.0h11.6M1019.5 995.1v12.4M1013.7 1001.3h11.6M1021.5 995.4v12.4M1015.7 1001.6h11.6M1026.5 996.3v12.4M1020.7 1002.5h11.6M1037.5 998.4v12.4M1031.7 1004.6h11.6M1041.5 999.2v12.4M1035.7 1005.4h11.6M1049.5 1001.4v12.4M1043.7 1007.6h11.6M1052.5 1002.7v12.4M1046.7 1008.9h11.6M1056.5 1004.3v12.4M1050.7 1010.5h11.6M1058.5 1005.2v12.4M1052.7 1011.4h11.6M1071.5 1011.0v12.4M1065.7 1017.2h11.6M1080.5 1017.8v12.4M1074.7 1024.0h11.6M1082.5 1018.8v12.4M1076.7 1025.0h11.6M1091.5 1021.8v12.4M1085.7 1028.0h11.6M1115.5 1033.8v12.4M1109.7 1040.0h11.6M1122.5 1037.8v12.4M1116.7 1044.0h11.6M1124.5 1039.0v12.4M1118.7 1045.2h11.6M1126.5 1040.2v12.4M1120.7 1046.4h11.6M1150.5 1051.8v12.4M1144.7 1058.0h11.6M1160.5 1060.9v12.4M1154.7 1067.1h11.6M1167.5 1065.1v12.4M1161.7 1071.3h11.6M1169.5 1066.4v12.4M1163.7 1072.6h11.6M1193.5 1090.4v12.4M1187.7 1096.6h11.6M1204.5 1098.9v12.4M1198.7 1105.1h11.6M1226.5 1109.1v12.4M1220.7 1115.3h11.6M1240.5 1118.3v12.4M1234.7 1124.5h11.6M1282.5 1142.3v12.4M1276.7 1148.5h11.6M1285.5 1143.4v12.4M1279.7 1149.6h11.6M1288.5 1144.4v12.4M1282.7 1150.6h11.6M1291.5 1145.5v12.4M1285.7 1151.7h11.6M1293.5 1146.2v12.4M1287.7 1152.4h11.6M1303.5 1150.4v12.4M1297.7 1156.6h11.6M1306.5 1151.7v12.4M1300.7 1157.9h11.6M1324.5 1160.7v12.4M1318.7 1166.9h11.6M1334.5 1162.6v12.4M1328.7 1168.8h11.6M1347.5 1167.3v12.4M1341.7 1173.5h11.6M1360.5 1172.4v12.4M1354.7 1178.6h11.6M1365.5 1172.9v12.4M1359.7 1179.1h11.6M1378.5 1173.9v12.4M1372.7 1180.1h11.6M1384.5 1178.1v12.4M1378.7 1184.3h11.6M1387.5 1179.1v12.4M1381.7 1185.3h11.6M1389.5 1179.4v12.4M1383.7 1185.6h11.6M1399.5 1181.0v12.4M1393.7 1187.2h11.6M1407.5 1182.2v12.4M1401.7 1188.4h11.6M1412.5 1183.5v12.4M1406.7 1189.7h11.6M1423.5 1186.5v12.4M1417.7 1192.7h11.6M1424.5 1186.5v12.4M1418.7 1192.7h11.6M1433.5 1186.7v12.4M1427.7 1192.9h11.6M1442.5 1186.9v12.4M1436.7 1193.1h11.6M1450.5 1187.0v12.4M1444.7 1193.2h11.6M1452.5 1187.1v12.4M1446.7 1193.3h11.6M1455.5 1187.1v12.4M1449.7 1193.3h11.6M1458.5 1187.2v12.4M1452.7 1193.4h11.6M1461.5 1187.2v12.4M1455.7 1193.4h11.6M1463.5 1187.3v12.4M1457.7 1193.5h11.6M1472.5 1189.8v12.4M1466.7 1196.0h11.6M1484.5 1190.2v12.4M1478.7 1196.4h11.6M1493.5 1194.0v12.4M1487.7 1200.2h11.6M1505.5 1195.2v12.4M1499.7 1201.4h11.6M1509.5 1195.9v12.4M1503.7 1202.1h11.6M1515.5 1198.1v12.4M1509.7 1204.3h11.6M1517.5 1198.2v12.4M1511.7 1204.4h11.6M1526.5 1198.6v12.4M1520.7 1204.8h11.6M1536.5 1202.6v12.4M1530.7 1208.8h11.6M1539.5 1202.7v12.4M1533.7 1208.9h11.6M1552.5 1203.2v12.4M1546.7 1209.4h11.6" fill="none" stroke="#111" stroke-width="1.00"/>
</g>
<text transform="translate(-1.7 1673.0) scale(0.994 1)" font-size="35.0" text-anchor="start" font-weight="bold">(c)</text>
<text transform="translate(99.3 1712.5) scale(0.985 1)" font-size="35.0" text-anchor="start" font-weight="bold">Postoperative abdominal infectious complications (-)</text>
<line x1="892.3" y1="1735.0" x2="892.3" y2="2370.5" stroke="#a8a8a8" stroke-width="1.20"/>
<line x1="160.6" y1="1772.0" x2="160.6" y2="2349.3" stroke="#1a1a1a" stroke-width="2.30"/>
<line x1="159.4" y1="2347.7" x2="822.0" y2="2347.7" stroke="#0a0a0a" stroke-width="3.20"/>
<line x1="148.6" y1="1793.7" x2="160.6" y2="1793.7" stroke="#111" stroke-width="1.80"/>
<text transform="translate(109.0 1807.7) scale(0.995 1)" font-size="34.8" text-anchor="middle">100</text>
<line x1="185.1" y1="2347.7" x2="185.1" y2="2360.2" stroke="#777" stroke-width="2.00"/>
<text transform="translate(185.4 2413.2) scale(0.995 1)" font-size="34.8" text-anchor="middle">0</text>
<line x1="148.6" y1="1900.2" x2="160.6" y2="1900.2" stroke="#777" stroke-width="1.80"/>
<text transform="translate(109.0 1913.7) scale(0.995 1)" font-size="34.8" text-anchor="middle">80</text>
<line x1="307.3" y1="2347.7" x2="307.3" y2="2360.2" stroke="#777" stroke-width="2.00"/>
<text transform="translate(307.6 2413.2) scale(0.995 1)" font-size="34.8" text-anchor="middle">1</text>
<line x1="148.6" y1="2006.8" x2="160.6" y2="2006.8" stroke="#222" stroke-width="1.80"/>
<text transform="translate(109.0 2020.9) scale(0.995 1)" font-size="34.8" text-anchor="middle">60</text>
<line x1="429.5" y1="2347.7" x2="429.5" y2="2360.2" stroke="#777" stroke-width="2.00"/>
<text transform="translate(429.8 2413.2) scale(0.995 1)" font-size="34.8" text-anchor="middle">2</text>
<line x1="148.6" y1="2113.3" x2="160.6" y2="2113.3" stroke="#555" stroke-width="1.80"/>
<text transform="translate(109.0 2126.5) scale(0.995 1)" font-size="34.8" text-anchor="middle">40</text>
<line x1="551.7" y1="2347.7" x2="551.7" y2="2360.2" stroke="#777" stroke-width="2.00"/>
<text transform="translate(552.0 2413.2) scale(0.995 1)" font-size="34.8" text-anchor="middle">3</text>
<line x1="148.6" y1="2219.9" x2="160.6" y2="2219.9" stroke="#777" stroke-width="1.80"/>
<text transform="translate(109.0 2232.1) scale(0.995 1)" font-size="34.8" text-anchor="middle">20</text>
<line x1="673.9" y1="2347.7" x2="673.9" y2="2360.2" stroke="#777" stroke-width="2.00"/>
<text transform="translate(674.2 2413.2) scale(0.995 1)" font-size="34.8" text-anchor="middle">4</text>
<line x1="148.6" y1="2326.4" x2="160.6" y2="2326.4" stroke="#444" stroke-width="1.80"/>
<text transform="translate(109.0 2337.6) scale(0.995 1)" font-size="34.8" text-anchor="middle">0</text>
<line x1="796.1" y1="2347.7" x2="796.1" y2="2360.2" stroke="#777" stroke-width="2.00"/>
<text transform="translate(796.4 2413.2) scale(0.995 1)" font-size="34.8" text-anchor="middle">5</text>
<text transform="translate(38.4 2067.6) scale(1.015 1) rotate(-90)" font-size="34.4" text-anchor="middle" font-weight="bold">Overall survival (%)</text>
<text transform="translate(336.9 2464.9) scale(1.021 1)" font-size="34.0" text-anchor="start" font-weight="bold">Years after surgery</text>
<text transform="translate(513.5 1784.8) scale(1.000 1)" font-size="34.4" text-anchor="start" word-spacing="0.8">BMI ≥ 25 (n = 254)</text>
<text transform="translate(513.5 1959.4) scale(1.000 1)" font-size="34.4" text-anchor="start" word-spacing="0.8">BMI &lt; 25 (n = 1142)</text>
<text transform="translate(612.5 2213.1) scale(0.994 1)" font-size="35.0" text-anchor="start" font-weight="bold" fill="#f00"><tspan font-style="italic">P</tspan> = 0.017</text>
<text transform="translate(610.3 2254.3) scale(1.000 1)" font-size="34.4" text-anchor="start" word-spacing="0.8">Log-rank test</text>
<g>
<path d="M184.5 1787.0v14.6M177.5 1794.3h14.0M184.5 1787.0v14.6M177.5 1794.3h14.0M185.5 1787.0v14.6M178.5 1794.3h14.0M186.5 1787.0v14.6M179.5 1794.3h14.0M187.5 1787.0v14.6M180.5 1794.3h14.0M188.5 1787.0v14.6M181.5 1794.3h14.0M190.5 1787.0v14.6M183.5 1794.3h14.0M191.5 1787.0v14.6M184.5 1794.3h14.0M191.5 1787.0v14.6M184.5 1794.3h14.0M193.5 1787.0v14.6M186.5 1794.3h14.0M195.5 1787.0v14.6M188.5 1794.3h14.0M197.5 1787.0v14.6M190.5 1794.3h14.0M197.5 1787.0v14.6M190.5 1794.3h14.0M199.5 1787.0v14.6M192.5 1794.3h14.0M201.5 1787.0v14.6M194.5 1794.3h14.0M202.5 1787.0v14.6M195.5 1794.3h14.0M204.5 1787.0v14.6M197.5 1794.3h14.0M205.5 1787.0v14.6M198.5 1794.3h14.0M206.5 1787.0v14.6M199.5 1794.3h14.0M208.5 1787.0v14.6M201.5 1794.3h14.0M307.5 1793.6v14.6M300.5 1800.9h14.0M340.5 1800.3v14.6M333.5 1807.6h14.0M342.5 1800.3v14.6M335.5 1807.6h14.0M346.5 1800.3v14.6M339.5 1807.6h14.0M348.5 1800.3v14.6M341.5 1807.6h14.0M350.5 1800.3v14.6M343.5 1807.6h14.0M351.5 1800.3v14.6M344.5 1807.6h14.0M439.5 1807.4v14.6M432.5 1814.7h14.0M446.5 1807.4v14.6M439.5 1814.7h14.0M448.5 1807.4v14.6M441.5 1814.7h14.0M451.5 1807.4v14.6M444.5 1814.7h14.0M470.5 1807.4v14.6M463.5 1814.7h14.0M489.5 1807.4v14.6M482.5 1814.7h14.0M491.5 1807.4v14.6M484.5 1814.7h14.0M505.5 1809.6v14.6M498.5 1816.9h14.0M520.5 1816.9v14.6M513.5 1824.2h14.0M532.5 1816.9v14.6M525.5 1824.2h14.0M534.5 1816.9v14.6M527.5 1824.2h14.0M536.5 1816.9v14.6M529.5 1824.2h14.0M552.5 1816.9v14.6M545.5 1824.2h14.0M553.5 1816.9v14.6M546.5 1824.2h14.0M556.5 1816.9v14.6M549.5 1824.2h14.0M569.5 1819.3v14.6M562.5 1826.6h14.0M580.5 1819.3v14.6M573.5 1826.6h14.0M583.5 1819.3v14.6M576.5 1826.6h14.0M585.5 1819.3v14.6M578.5 1826.6h14.0M612.5 1828.6v14.6M605.5 1835.9h14.0M633.5 1832.3v14.6M626.5 1839.6h14.0M656.5 1832.3v14.6M649.5 1839.6h14.0M674.5 1835.6v14.6M667.5 1842.9h14.0M675.5 1835.6v14.6M668.5 1842.9h14.0M676.5 1835.6v14.6M669.5 1842.9h14.0M677.5 1835.6v14.6M670.5 1842.9h14.0M678.5 1835.6v14.6M671.5 1842.9h14.0M678.5 1835.6v14.6M671.5 1842.9h14.0M679.5 1835.6v14.6M672.5 1842.9h14.0M680.5 1835.6v14.6M673.5 1842.9h14.0M682.5 1835.6v14.6M675.5 1842.9h14.0M704.5 1837.9v14.6M697.5 1845.2h14.0M706.5 1837.9v14.6M699.5 1845.2h14.0M710.5 1837.9v14.6M703.5 1845.2h14.0M712.5 1837.9v14.6M705.5 1845.2h14.0M723.5 1844.6v14.6M716.5 1851.9h14.0M731.5 1849.2v14.6M724.5 1856.5h14.0M737.5 1851.6v14.6M730.5 1858.9h14.0M738.5 1851.6v14.6M731.5 1858.9h14.0M739.5 1851.6v14.6M732.5 1858.9h14.0M740.5 1851.6v14.6M733.5 1858.9h14.0M740.5 1851.6v14.6M733.5 1858.9h14.0M741.5 1851.6v14.6M734.5 1858.9h14.0M749.5 1851.6v14.6M742.5 1858.9h14.0M758.5 1851.6v14.6M751.5 1858.9h14.0M760.5 1854.6v14.6M753.5 1861.9h14.0M762.5 1854.6v14.6M755.5 1861.9h14.0M774.5 1854.6v14.6M767.5 1861.9h14.0M786.5 1854.6v14.6M779.5 1861.9h14.0M786.5 1854.6v14.6M779.5 1861.9h14.0M787.5 1854.6v14.6M780.5 1861.9h14.0M788.5 1854.6v14.6M781.5 1861.9h14.0M789.5 1854.6v14.6M782.5 1861.9h14.0M790.5 1854.6v14.6M783.5 1861.9h14.0M791.5 1854.6v14.6M784.5 1861.9h14.0M792.5 1854.6v14.6M785.5 1861.9h14.0M793.5 1854.6v14.6M786.5 1861.9h14.0M794.5 1854.6v14.6M787.5 1861.9h14.0M795.5 1854.6v14.6M788.5 1861.9h14.0M796.5 1854.6v14.6M789.5 1861.9h14.0" fill="none" stroke="#cf5a6e" stroke-width="2.00"/>
<path d="M176.9 1794.3 L215.8 1795.7 L242.2 1798.5 L247.8 1802.6 L260.3 1805.4 L281.1 1809.6 L289.4 1814.4 L303.3 1816.5 L321.4 1819.3 L339.4 1823.5 L356.1 1827.6 L370.0 1829.7 L378.3 1835.3 L390.0 1838.0 L400.8 1840.0 L421.7 1844.9 L442.5 1849.7 L463.3 1853.9 L484.2 1858.8 L505.0 1862.9 L525.8 1867.1 L546.7 1869.9 L574.4 1873.3 L590.0 1875.3 L617.8 1879.4 L645.5 1882.9 L673.3 1884.3 L701.1 1886.4 L728.9 1889.9 L756.7 1892.6 L770.5 1894.7 L804.6 1895.8" fill="none" stroke="#000" stroke-width="2.50" stroke-linejoin="miter"/>
<path d="M186.5 1787.0v15.2M179.0 1794.6h15.0M188.5 1787.1v15.2M181.0 1794.7h15.0M198.5 1787.5v15.2M191.0 1795.1h15.0M199.5 1787.5v15.2M192.0 1795.1h15.0M201.5 1787.6v15.2M194.0 1795.2h15.0M202.5 1787.6v15.2M195.0 1795.2h15.0M203.5 1787.7v15.2M196.0 1795.3h15.0M214.5 1788.1v15.2M207.0 1795.7h15.0M222.5 1788.8v15.2M215.0 1796.4h15.0M223.5 1788.9v15.2M216.0 1796.5h15.0M228.5 1789.4v15.2M221.0 1797.0h15.0M230.5 1789.7v15.2M223.0 1797.3h15.0M232.5 1789.9v15.2M225.0 1797.5h15.0M234.5 1790.1v15.2M227.0 1797.7h15.0M235.5 1790.2v15.2M228.0 1797.8h15.0M236.5 1790.3v15.2M229.0 1797.9h15.0M238.5 1790.5v15.2M231.0 1798.1h15.0M239.5 1790.6v15.2M232.0 1798.2h15.0M258.5 1797.4v15.2M251.0 1805.0h15.0M264.5 1798.6v15.2M257.0 1806.2h15.0M267.5 1799.3v15.2M260.0 1806.9h15.0M270.5 1799.9v15.2M263.0 1807.5h15.0M273.5 1800.5v15.2M266.0 1808.1h15.0M276.5 1801.1v15.2M269.0 1808.7h15.0M279.5 1801.7v15.2M272.0 1809.3h15.0M305.5 1809.2v15.2M298.0 1816.8h15.0M306.5 1809.4v15.2M299.0 1817.0h15.0M308.5 1809.7v15.2M301.0 1817.3h15.0M309.5 1809.9v15.2M302.0 1817.5h15.0M310.5 1810.0v15.2M303.0 1817.6h15.0M311.5 1810.2v15.2M304.0 1817.8h15.0M311.5 1810.2v15.2M304.0 1817.8h15.0M312.5 1810.3v15.2M305.0 1817.9h15.0M313.5 1810.5v15.2M306.0 1818.1h15.0M314.5 1810.6v15.2M307.0 1818.2h15.0M315.5 1810.8v15.2M308.0 1818.4h15.0M316.5 1810.9v15.2M309.0 1818.5h15.0M317.5 1811.1v15.2M310.0 1818.7h15.0M319.5 1811.4v15.2M312.0 1819.0h15.0M320.5 1811.6v15.2M313.0 1819.2h15.0M340.5 1816.2v15.2M333.0 1823.8h15.0M345.5 1817.4v15.2M338.0 1825.0h15.0M356.5 1820.1v15.2M349.0 1827.7h15.0M364.5 1821.3v15.2M357.0 1828.9h15.0M385.5 1829.4v15.2M378.0 1837.0h15.0M393.5 1831.0v15.2M386.0 1838.6h15.0M405.5 1833.5v15.2M398.0 1841.1h15.0M421.5 1837.3v15.2M414.0 1844.9h15.0M423.5 1837.7v15.2M416.0 1845.3h15.0M425.5 1838.2v15.2M418.0 1845.8h15.0M431.5 1839.6v15.2M424.0 1847.2h15.0M432.5 1839.8v15.2M425.0 1847.4h15.0M441.5 1841.9v15.2M434.0 1849.5h15.0M444.5 1842.5v15.2M437.0 1850.1h15.0M447.5 1843.1v15.2M440.0 1850.7h15.0M457.5 1845.1v15.2M450.0 1852.7h15.0M464.5 1846.6v15.2M457.0 1854.2h15.0M472.5 1848.4v15.2M465.0 1856.0h15.0M475.5 1849.1v15.2M468.0 1856.7h15.0M478.5 1849.8v15.2M471.0 1857.4h15.0M480.5 1850.3v15.2M473.0 1857.9h15.0M484.5 1851.2v15.2M477.0 1858.8h15.0M484.5 1851.2v15.2M477.0 1858.8h15.0M486.5 1851.6v15.2M479.0 1859.2h15.0M486.5 1851.6v15.2M479.0 1859.2h15.0M488.5 1852.0v15.2M481.0 1859.6h15.0M491.5 1852.6v15.2M484.0 1860.2h15.0M492.5 1852.8v15.2M485.0 1860.4h15.0M493.5 1853.0v15.2M486.0 1860.6h15.0M494.5 1853.2v15.2M487.0 1860.8h15.0M495.5 1853.4v15.2M488.0 1861.0h15.0M495.5 1853.4v15.2M488.0 1861.0h15.0M496.5 1853.6v15.2M489.0 1861.2h15.0M497.5 1853.8v15.2M490.0 1861.4h15.0M498.5 1854.0v15.2M491.0 1861.6h15.0M500.5 1854.4v15.2M493.0 1862.0h15.0M500.5 1854.4v15.2M493.0 1862.0h15.0M501.5 1854.6v15.2M494.0 1862.2h15.0M502.5 1854.8v15.2M495.0 1862.4h15.0M503.5 1855.0v15.2M496.0 1862.6h15.0M504.5 1855.2v15.2M497.0 1862.8h15.0M505.5 1855.4v15.2M498.0 1863.0h15.0M506.5 1855.6v15.2M499.0 1863.2h15.0M516.5 1857.6v15.2M509.0 1865.2h15.0M518.5 1858.0v15.2M511.0 1865.6h15.0M518.5 1858.0v15.2M511.0 1865.6h15.0M520.5 1858.4v15.2M513.0 1866.0h15.0M520.5 1858.4v15.2M513.0 1866.0h15.0M521.5 1858.6v15.2M514.0 1866.2h15.0M525.5 1859.4v15.2M518.0 1867.0h15.0M527.5 1859.7v15.2M520.0 1867.3h15.0M529.5 1860.0v15.2M522.0 1867.6h15.0M530.5 1860.1v15.2M523.0 1867.7h15.0M534.5 1860.7v15.2M527.0 1868.3h15.0M535.5 1860.8v15.2M528.0 1868.4h15.0M539.5 1861.3v15.2M532.0 1868.9h15.0M542.5 1861.7v15.2M535.0 1869.3h15.0M545.5 1862.1v15.2M538.0 1869.7h15.0M547.5 1862.4v15.2M540.0 1870.0h15.0M550.5 1862.8v15.2M543.0 1870.4h15.0M555.5 1863.4v15.2M548.0 1871.0h15.0M557.5 1863.6v15.2M550.0 1871.2h15.0M558.5 1863.7v15.2M551.0 1871.3h15.0M560.5 1864.0v15.2M553.0 1871.6h15.0M562.5 1864.2v15.2M555.0 1871.8h15.0M565.5 1864.6v15.2M558.0 1872.2h15.0M567.5 1864.9v15.2M560.0 1872.5h15.0M571.5 1865.3v15.2M564.0 1872.9h15.0M572.5 1865.5v15.2M565.0 1873.1h15.0M574.5 1865.7v15.2M567.0 1873.3h15.0M576.5 1866.0v15.2M569.0 1873.6h15.0M578.5 1866.2v15.2M571.0 1873.8h15.0M580.5 1866.5v15.2M573.0 1874.1h15.0M583.5 1866.9v15.2M576.0 1874.5h15.0M584.5 1867.0v15.2M577.0 1874.6h15.0M587.5 1867.4v15.2M580.0 1875.0h15.0M588.5 1867.5v15.2M581.0 1875.1h15.0M589.5 1867.6v15.2M582.0 1875.2h15.0M592.5 1868.1v15.2M585.0 1875.7h15.0M593.5 1868.2v15.2M586.0 1875.8h15.0M595.5 1868.5v15.2M588.0 1876.1h15.0M596.5 1868.7v15.2M589.0 1876.3h15.0M598.5 1869.0v15.2M591.0 1876.6h15.0M599.5 1869.1v15.2M592.0 1876.7h15.0M600.5 1869.2v15.2M593.0 1876.8h15.0M607.5 1870.3v15.2M600.0 1877.9h15.0M608.5 1870.4v15.2M601.0 1878.0h15.0M609.5 1870.6v15.2M602.0 1878.2h15.0M610.5 1870.7v15.2M603.0 1878.3h15.0M612.5 1871.0v15.2M605.0 1878.6h15.0M613.5 1871.2v15.2M606.0 1878.8h15.0M614.5 1871.3v15.2M607.0 1878.9h15.0M615.5 1871.5v15.2M608.0 1879.1h15.0M616.5 1871.6v15.2M609.0 1879.2h15.0M617.5 1871.8v15.2M610.0 1879.4h15.0M620.5 1872.1v15.2M613.0 1879.7h15.0M621.5 1872.3v15.2M614.0 1879.9h15.0M623.5 1872.5v15.2M616.0 1880.1h15.0M625.5 1872.8v15.2M618.0 1880.4h15.0M627.5 1873.0v15.2M620.0 1880.6h15.0M628.5 1873.2v15.2M621.0 1880.8h15.0M630.5 1873.4v15.2M623.0 1881.0h15.0M631.5 1873.5v15.2M624.0 1881.1h15.0M632.5 1873.7v15.2M625.0 1881.3h15.0M635.5 1874.0v15.2M628.0 1881.6h15.0M636.5 1874.2v15.2M629.0 1881.8h15.0M636.5 1874.2v15.2M629.0 1881.8h15.0M639.5 1874.5v15.2M632.0 1882.1h15.0M639.5 1874.5v15.2M632.0 1882.1h15.0M641.5 1874.8v15.2M634.0 1882.4h15.0M643.5 1875.0v15.2M636.0 1882.6h15.0M645.5 1875.3v15.2M638.0 1882.9h15.0M647.5 1875.4v15.2M640.0 1883.0h15.0M648.5 1875.5v15.2M641.0 1883.1h15.0M649.5 1875.5v15.2M642.0 1883.1h15.0M651.5 1875.6v15.2M644.0 1883.2h15.0M653.5 1875.7v15.2M646.0 1883.3h15.0M655.5 1875.8v15.2M648.0 1883.4h15.0M657.5 1875.9v15.2M650.0 1883.5h15.0M661.5 1876.1v15.2M654.0 1883.7h15.0M663.5 1876.2v15.2M656.0 1883.8h15.0M664.5 1876.3v15.2M657.0 1883.9h15.0M666.5 1876.4v15.2M659.0 1884.0h15.0M668.5 1876.5v15.2M661.0 1884.1h15.0M669.5 1876.5v15.2M662.0 1884.1h15.0M671.5 1876.6v15.2M664.0 1884.2h15.0M672.5 1876.7v15.2M665.0 1884.3h15.0M674.5 1876.8v15.2M667.0 1884.4h15.0M675.5 1876.9v15.2M668.0 1884.5h15.0M676.5 1876.9v15.2M669.0 1884.5h15.0M678.5 1877.1v15.2M671.0 1884.7h15.0M680.5 1877.2v15.2M673.0 1884.8h15.0M681.5 1877.3v15.2M674.0 1884.9h15.0M682.5 1877.4v15.2M675.0 1885.0h15.0M684.5 1877.5v15.2M677.0 1885.1h15.0M685.5 1877.6v15.2M678.0 1885.2h15.0M686.5 1877.7v15.2M679.0 1885.3h15.0M687.5 1877.8v15.2M680.0 1885.4h15.0M688.5 1877.8v15.2M681.0 1885.4h15.0M690.5 1878.0v15.2M683.0 1885.6h15.0M691.5 1878.1v15.2M684.0 1885.7h15.0M691.5 1878.1v15.2M684.0 1885.7h15.0M692.5 1878.2v15.2M685.0 1885.8h15.0M693.5 1878.2v15.2M686.0 1885.8h15.0M695.5 1878.4v15.2M688.0 1886.0h15.0M697.5 1878.5v15.2M690.0 1886.1h15.0M697.5 1878.5v15.2M690.0 1886.1h15.0M699.5 1878.7v15.2M692.0 1886.3h15.0M707.5 1879.6v15.2M700.0 1887.2h15.0M708.5 1879.7v15.2M701.0 1887.3h15.0M710.5 1880.0v15.2M703.0 1887.6h15.0M713.5 1880.4v15.2M706.0 1888.0h15.0M714.5 1880.5v15.2M707.0 1888.1h15.0M715.5 1880.6v15.2M708.0 1888.2h15.0M717.5 1880.9v15.2M710.0 1888.5h15.0M718.5 1881.0v15.2M711.0 1888.6h15.0M721.5 1881.4v15.2M714.0 1889.0h15.0M722.5 1881.5v15.2M715.0 1889.1h15.0M725.5 1881.9v15.2M718.0 1889.5h15.0M726.5 1882.0v15.2M719.0 1889.6h15.0M726.5 1882.0v15.2M719.0 1889.6h15.0M729.5 1882.4v15.2M722.0 1890.0h15.0M731.5 1882.6v15.2M724.0 1890.2h15.0M732.5 1882.6v15.2M725.0 1890.2h15.0M733.5 1882.7v15.2M726.0 1890.3h15.0M736.5 1883.0v15.2M729.0 1890.6h15.0M738.5 1883.2v15.2M731.0 1890.8h15.0M738.5 1883.2v15.2M731.0 1890.8h15.0M739.5 1883.3v15.2M732.0 1890.9h15.0M741.5 1883.5v15.2M734.0 1891.1h15.0M742.5 1883.6v15.2M735.0 1891.2h15.0M745.5 1883.9v15.2M738.0 1891.5h15.0M746.5 1884.0v15.2M739.0 1891.6h15.0M747.5 1884.1v15.2M740.0 1891.7h15.0M750.5 1884.4v15.2M743.0 1892.0h15.0M750.5 1884.4v15.2M743.0 1892.0h15.0M751.5 1884.5v15.2M744.0 1892.1h15.0M753.5 1884.7v15.2M746.0 1892.3h15.0M754.5 1884.8v15.2M747.0 1892.4h15.0M756.5 1885.0v15.2M749.0 1892.6h15.0M758.5 1885.3v15.2M751.0 1892.9h15.0M759.5 1885.4v15.2M752.0 1893.0h15.0M761.5 1885.7v15.2M754.0 1893.3h15.0M764.5 1886.2v15.2M757.0 1893.8h15.0M765.5 1886.3v15.2M758.0 1893.9h15.0M767.5 1886.6v15.2M760.0 1894.2h15.0M773.5 1887.2v15.2M766.0 1894.8h15.0M774.5 1887.2v15.2M767.0 1894.8h15.0M775.5 1887.3v15.2M768.0 1894.9h15.0M776.5 1887.3v15.2M769.0 1894.9h15.0M777.5 1887.3v15.2M770.0 1894.9h15.0M778.5 1887.4v15.2M771.0 1895.0h15.0M780.5 1887.4v15.2M773.0 1895.0h15.0M782.5 1887.5v15.2M775.0 1895.1h15.0M783.5 1887.5v15.2M776.0 1895.1h15.0M784.5 1887.6v15.2M777.0 1895.2h15.0M786.5 1887.6v15.2M779.0 1895.2h15.0M787.5 1887.6v15.2M780.0 1895.2h15.0M787.5 1887.6v15.2M780.0 1895.2h15.0M789.5 1887.7v15.2M782.0 1895.3h15.0M790.5 1887.7v15.2M783.0 1895.3h15.0M792.5 1887.8v15.2M785.0 1895.4h15.0M793.5 1887.8v15.2M786.0 1895.4h15.0M795.5 1887.9v15.2M788.0 1895.5h15.0M796.5 1887.9v15.2M789.0 1895.5h15.0" fill="none" stroke="#000" stroke-width="1.90"/>
<path d="M176.9 1794.3 L215.0 1794.3 L215.0 1795.3 L265.8 1795.3 L265.8 1798.5 L272.0 1798.5 L272.0 1800.9 L308.2 1800.9 L308.2 1803.4 L323.8 1803.4 L323.8 1807.6 L359.0 1807.6 L359.0 1810.5 L404.6 1810.5 L404.6 1812.6 L411.6 1812.6 L411.6 1814.7 L500.0 1814.7 L500.0 1816.9 L511.0 1816.9 L511.0 1823.0 L516.0 1823.0 L516.0 1824.2 L560.5 1824.2 L560.5 1826.6 L590.4 1826.6 L590.4 1828.9 L592.5 1828.9 L592.5 1831.5 L597.0 1831.5 L597.0 1834.7 L606.0 1834.7 L606.0 1835.9 L624.0 1835.9 L624.0 1839.6 L661.0 1839.6 L661.0 1842.9 L689.0 1842.9 L689.0 1845.2 L717.0 1845.2 L717.0 1848.2 L721.0 1848.2 L721.0 1851.9 L730.0 1851.9 L730.0 1856.5 L735.0 1856.5 L735.0 1858.9 L759.0 1858.9 L759.0 1861.9 L804.6 1861.9" fill="none" stroke="#cf5a6e" stroke-width="1.90" stroke-linejoin="miter"/>
</g>
</svg>
</body></html>
